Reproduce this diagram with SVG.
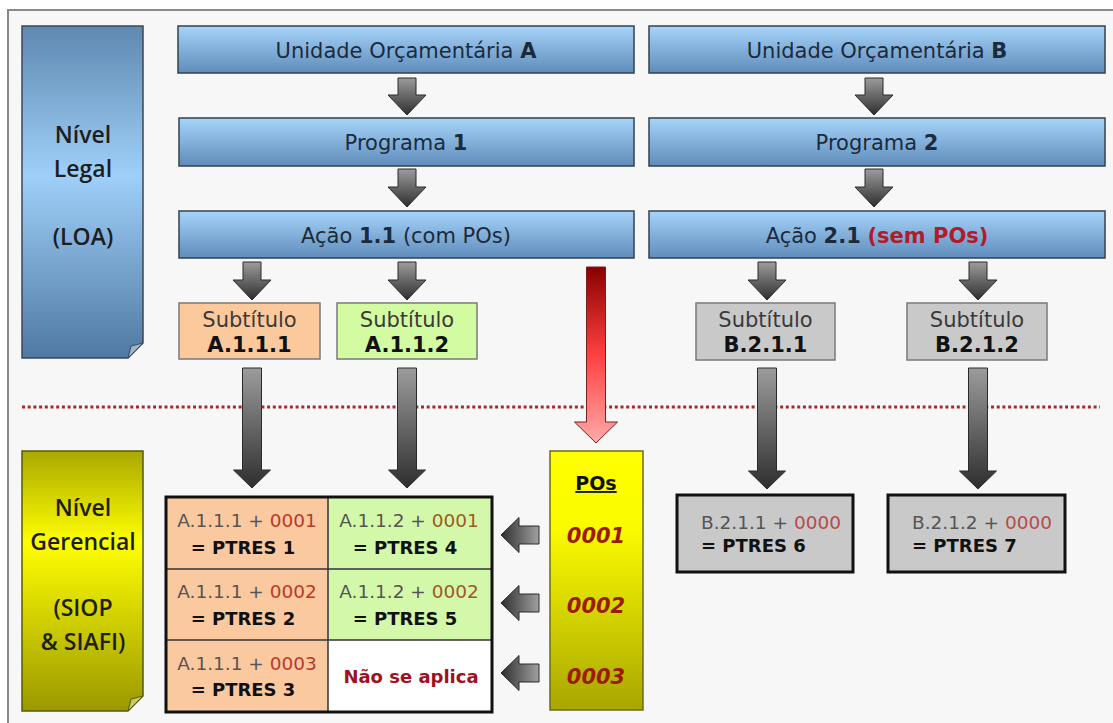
<svg xmlns="http://www.w3.org/2000/svg" width="1113" height="723" viewBox="0 0 1113 723">
<defs>
<linearGradient id="gBlue" x1="0" y1="0" x2="0" y2="1"><stop offset="0" stop-color="#a6d4fa"/><stop offset="1" stop-color="#5f8cba"/></linearGradient>
<linearGradient id="gLegal" x1="0" y1="0" x2="0" y2="1"><stop offset="0" stop-color="#5f88b0"/><stop offset="0.45" stop-color="#9fd0f9"/><stop offset="1" stop-color="#4f78a2"/></linearGradient>
<linearGradient id="gGer" x1="0" y1="0" x2="0" y2="1"><stop offset="0" stop-color="#a9a800"/><stop offset="0.35" stop-color="#ffff00"/><stop offset="1" stop-color="#9a9800"/></linearGradient>
<linearGradient id="gPOs" x1="0" y1="0" x2="0" y2="1"><stop offset="0" stop-color="#ffff00"/><stop offset="0.3" stop-color="#fbfb00"/><stop offset="1" stop-color="#a8a600"/></linearGradient>
<linearGradient id="gArr" x1="0" y1="0" x2="0" y2="1"><stop offset="0" stop-color="#9c9c9c"/><stop offset="1" stop-color="#2e2e2e"/></linearGradient>
<linearGradient id="gArrL" x1="0" y1="0" x2="1" y2="0"><stop offset="0" stop-color="#2e2e2e"/><stop offset="1" stop-color="#a0a0a0"/></linearGradient>
<linearGradient id="gRed" x1="0" y1="0" x2="0" y2="1"><stop offset="0" stop-color="#8a0000"/><stop offset="0.5" stop-color="#ff4040"/><stop offset="1" stop-color="#ffaaaa"/></linearGradient>
</defs>
<style>
.t{font-family:"DejaVu Sans",Verdana,sans-serif;}
.b{font-weight:bold;}
.blue{fill:url(#gBlue);stroke:#36424e;stroke-width:1.5;}
.btxt{font-size:21px;fill:#1c2b3c;text-anchor:middle;}
.side{font-family:"Open Sans","DejaVu Sans",sans-serif;font-weight:600;font-size:23px;fill:#1e1e1e;text-anchor:middle;}
.sub{stroke:#7a7a7a;stroke-width:1.5;}
.stxt{font-size:21px;text-anchor:middle;}
.cell{font-size:18.5px;fill:#555;text-anchor:middle;}
.pt{font-size:18px;font-weight:bold;fill:#111;}
.arr{fill:url(#gArr);stroke:#2a2a2a;stroke-width:1;}
.arrL{fill:url(#gArrL);stroke:#2a2a2a;stroke-width:1;}
.po{font-size:21px;font-weight:bold;font-style:italic;fill:#9b1c00;text-anchor:middle;}
</style>
<rect x="0" y="0" width="1113" height="723" fill="#ffffff"/>
<rect x="8" y="10" width="1200" height="800" fill="#f7f7f7" stroke="#8a8a8a" stroke-width="2"/>

<g id="nivel-legal">
<path d="M22,26 H143 V343 L128,358 H22 Z" fill="url(#gLegal)" stroke="#3a4856" stroke-width="1.5"/>
<path d="M143,343 L128,358 L131,346 Z" fill="#9fb4c8" stroke="#3a4856" stroke-width="1"/>
<text class="side" x="83" y="143">Nível</text>
<text class="side" x="83" y="177">Legal</text>
<text class="side" x="83" y="245">(LOA)</text>
</g>

<g id="nivel-gerencial">
<path d="M22,451 H143 V696 L128,711 H22 Z" fill="url(#gGer)" stroke="#5a5a00" stroke-width="1.5"/>
<path d="M143,696 L128,711 L131,699 Z" fill="#c8c860" stroke="#5a5a00" stroke-width="1"/>
<text class="side" x="83" y="516">Nível</text>
<text class="side" x="83" y="550">Gerencial</text>
<text class="side" x="83" y="616">(SIOP</text>
<text class="side" x="83" y="650">&amp; SIAFI)</text>
</g>

<g id="uo-a"><rect class="blue" x="178" y="26" width="456" height="47"/>
<text class="t btxt" x="406" y="58">Unidade Orçamentária <tspan class="b">A</tspan></text></g>
<g id="uo-b"><rect class="blue" x="649" y="26" width="456" height="47"/>
<text class="t btxt" x="877" y="58">Unidade Orçamentária <tspan class="b">B</tspan></text></g>
<g id="prog-1"><rect class="blue" x="179" y="118" width="455" height="48"/>
<text class="t btxt" x="406" y="150">Programa <tspan class="b">1</tspan></text></g>
<g id="prog-2"><rect class="blue" x="649" y="118" width="456" height="48"/>
<text class="t btxt" x="877" y="150">Programa <tspan class="b">2</tspan></text></g>
<g id="acao-1-1"><rect class="blue" x="179" y="211" width="455" height="47"/>
<text class="t btxt" x="406" y="243">Ação <tspan class="b">1.1</tspan> (com POs)</text></g>
<g id="acao-2-1"><rect class="blue" x="649" y="211" width="456" height="47"/>
<text class="t btxt" x="877" y="243">Ação <tspan class="b">2.1</tspan> <tspan class="b" fill="#b01c2c">(sem POs)</tspan></text></g>

<g id="sub-a111"><rect class="sub" x="179" y="303" width="141" height="56" fill="#fbc99c"/>
<text class="t stxt" x="249.5" y="327" fill="#3a3a3a">Subtítulo</text>
<text class="t stxt b" x="249.5" y="352" fill="#111">A.1.1.1</text></g>
<g id="sub-a112"><rect class="sub" x="337" y="303" width="140" height="56" fill="#d3fba2"/>
<text class="t stxt" x="407" y="327" fill="#3a3a3a">Subtítulo</text>
<text class="t stxt b" x="407" y="352" fill="#111">A.1.1.2</text></g>
<g id="sub-b211"><rect class="sub" x="696" y="303" width="139" height="57" fill="#c9c9c9" stroke="#666"/>
<text class="t stxt" x="765.5" y="327" fill="#3a3a3a">Subtítulo</text>
<text class="t stxt b" x="765.5" y="352" fill="#111">B.2.1.1</text></g>
<g id="sub-b212"><rect class="sub" x="907" y="303" width="140" height="57" fill="#c9c9c9" stroke="#666"/>
<text class="t stxt" x="977" y="327" fill="#3a3a3a">Subtítulo</text>
<text class="t stxt b" x="977" y="352" fill="#111">B.2.1.2</text></g>

<line id="divisor" x1="22" y1="407" x2="1100" y2="407" stroke="#a52a2a" stroke-width="3" stroke-dasharray="3 2.7"/>

<g id="ptres-table">
<rect x="166" y="497" width="162" height="72" fill="#fbc9a0"/>
<rect x="166" y="569" width="162" height="71" fill="#fbc9a0"/>
<rect x="166" y="640" width="162" height="72" fill="#fbc9a0"/>
<rect x="328" y="497" width="164" height="72" fill="#d4f8aa"/>
<rect x="328" y="569" width="164" height="71" fill="#d4f8aa"/>
<rect x="328" y="640" width="164" height="72" fill="#ffffff"/>
<line x1="328" y1="497" x2="328" y2="712" stroke="#333" stroke-width="1.5"/>
<line x1="166" y1="569" x2="492" y2="569" stroke="#333" stroke-width="1.5"/>
<line x1="166" y1="640" x2="492" y2="640" stroke="#333" stroke-width="1.5"/>
<rect x="166" y="497" width="326" height="215" fill="none" stroke="#111" stroke-width="3"/>
<text class="t cell" x="247" y="527">A.1.1.1 + <tspan fill="#b83a2a">0001</tspan></text>
<text class="t pt" x="243" y="554" text-anchor="middle">= PTRES 1</text>
<text class="t cell" x="247" y="598">A.1.1.1 + <tspan fill="#b83a2a">0002</tspan></text>
<text class="t pt" x="243" y="625" text-anchor="middle">= PTRES 2</text>
<text class="t cell" x="247" y="670">A.1.1.1 + <tspan fill="#b83a2a">0003</tspan></text>
<text class="t pt" x="243" y="696" text-anchor="middle">= PTRES 3</text>
<text class="t cell" x="409" y="527">A.1.1.2 + <tspan fill="#9c5a28">0001</tspan></text>
<text class="t pt" x="405" y="554" text-anchor="middle">= PTRES 4</text>
<text class="t cell" x="409" y="598">A.1.1.2 + <tspan fill="#9c5a28">0002</tspan></text>
<text class="t pt" x="405" y="625" text-anchor="middle">= PTRES 5</text>
<text class="t b" x="411" y="683" font-size="18" fill="#a01020" text-anchor="middle">Não se aplica</text>
</g>

<g id="pos">
<rect x="550" y="451" width="93" height="259" fill="url(#gPOs)" stroke="#6a6a20" stroke-width="1.5"/>
<text class="t b" x="596" y="490" font-size="19" fill="#111" text-anchor="middle" text-decoration="underline">POs</text>
<text class="t po" x="596" y="543">0001</text>
<text class="t po" x="596" y="613">0002</text>
<text class="t po" x="596" y="684">0003</text>
</g>

<g id="ptres-6"><rect x="677" y="495" width="176" height="77" fill="#c9c9c9" stroke="#111" stroke-width="3"/>
<text class="t" x="701" y="529" font-size="18.5" fill="#555">B.2.1.1 + <tspan fill="#b84a4a">0000</tspan></text>
<text class="t pt" x="701" y="552">= PTRES 6</text></g>
<g id="ptres-7"><rect x="888" y="495" width="177" height="77" fill="#c9c9c9" stroke="#111" stroke-width="3"/>
<text class="t" x="912" y="529" font-size="18.5" fill="#555">B.2.1.2 + <tspan fill="#b84a4a">0000</tspan></text>
<text class="t pt" x="912" y="552">= PTRES 7</text></g>

<g id="connectors">
<path class="arr" d="M398,78 H416 V95 H426 L407,115 L388,95 H398 Z"/>
<path class="arr" d="M398,169 H416 V187 H426 L407,207 L388,187 H398 Z"/>
<path class="arr" d="M865,78 H883 V95 H893 L874,115 L855,95 H865 Z"/>
<path class="arr" d="M865,169 H883 V187 H893 L874,207 L855,187 H865 Z"/>
<path class="arr" d="M243,262 H261 V280 H271 L252,300 L233,280 H243 Z"/>
<path class="arr" d="M398,262 H416 V280 H426 L407,300 L388,280 H398 Z"/>
<path class="arr" d="M758,262 H776 V280 H786 L767,300 L748,280 H758 Z"/>
<path class="arr" d="M969,262 H987 V280 H997 L978,300 L959,280 H969 Z"/>
<path class="arr" d="M242.5,368 H261.5 V470 H270.5 L252,488 L233.5,470 H242.5 Z"/>
<path class="arr" d="M397.5,368 H416.5 V470 H425.5 L407,488 L388.5,470 H397.5 Z"/>
<path class="arr" d="M757.5,368 H776.5 V471 H785.5 L767,489 L748.5,471 H757.5 Z"/>
<path class="arr" d="M968.5,368 H987.5 V471 H996.5 L978,489 L959.5,471 H968.5 Z"/>
<path d="M586.5,267 H605.5 V422 H617.5 L596,443 L574.5,422 H586.5 Z" fill="url(#gRed)" stroke="#7a2020" stroke-width="1"/>
<path class="arrL" d="M539,526 V544 H519 V552.5 L501,535 L519,517.5 V526 Z"/>
<path class="arrL" d="M539,594 V612 H519 V620.5 L501,603 L519,585.5 V594 Z"/>
<path class="arrL" d="M539,664 V682 H519 V690.5 L501,673 L519,655.5 V664 Z"/>
</g>
</svg>
